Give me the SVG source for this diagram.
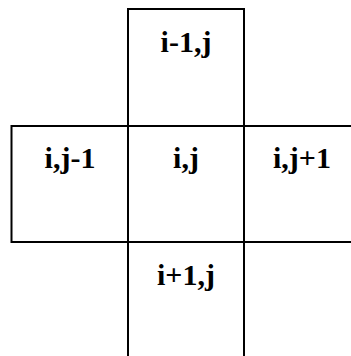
<svg xmlns="http://www.w3.org/2000/svg" width="351" height="356" viewBox="0 0 351 356">
<style>
.cell{fill:none;stroke:#000;stroke-width:2}
.lbl{font-family:"Liberation Serif","Times New Roman",serif;font-weight:bold;font-size:30px;text-anchor:middle;fill:#000}
</style>
<rect width="351" height="356" fill="#fff"/>
<g id="top"><rect class="cell" x="128" y="9" width="116" height="117"/><text class="lbl" x="186" y="52">i-1,j</text></g>
<g id="left"><rect class="cell" x="11.5" y="126" width="116.5" height="116"/><text class="lbl" x="70" y="168">i,j-1</text></g>
<g id="center"><rect class="cell" x="128" y="126" width="116" height="116"/><text class="lbl" x="186" y="168">i,j</text></g>
<g id="right"><rect class="cell" x="244" y="126" width="116" height="116"/><text class="lbl" x="302" y="168">i,j+1</text></g>
<g id="bottom"><rect class="cell" x="128" y="242" width="116" height="116"/><text class="lbl" x="186" y="285">i+1,j</text></g>
<g id="connectors"></g>
</svg>
